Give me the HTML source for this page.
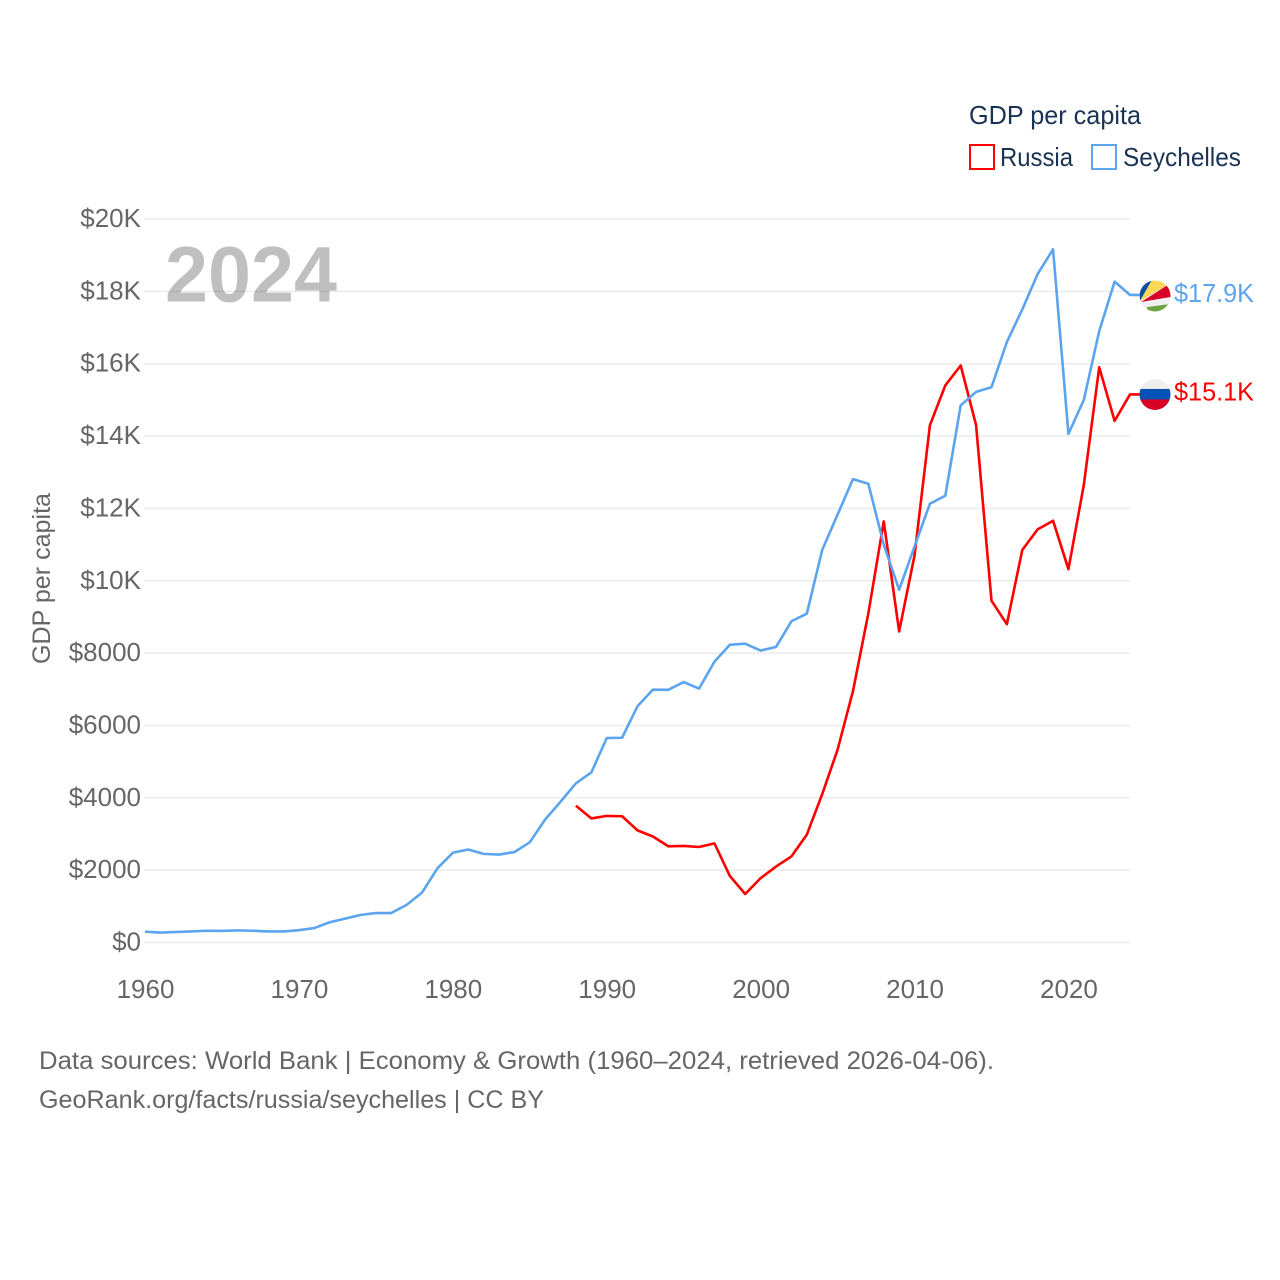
<!DOCTYPE html>
<html lang="en">
<head>
<meta charset="utf-8">
<title>GDP per capita: Russia and Seychelles</title>
<style>
html,body{margin:0;padding:0;background:#fff;}
svg{display:block;font-family:"Liberation Sans",sans-serif;}
</style>
</head>
<body>
<svg id="chart" width="1280" height="1280" viewBox="0 0 1280 1280" xmlns="http://www.w3.org/2000/svg">
  <defs>
    <clipPath id="flag-clip"><circle cx="0" cy="0" r="15.5"/></clipPath>
  </defs>
  <rect x="0" y="0" width="1280" height="1280" fill="#fff"/>

  <g id="grid"></g>
  <text x="165" y="301.5" font-size="79" font-weight="700" fill="#000" fill-opacity="0.25" textLength="172" lengthAdjust="spacingAndGlyphs">2024</text>
  <g id="y-axis"></g>
  <g id="x-axis"></g>
  <text transform="translate(50 578.5) rotate(-90)" text-anchor="middle" font-size="25" fill="#666" textLength="171" lengthAdjust="spacingAndGlyphs">GDP per capita</text>

  <g id="series"></g>

  <g id="flag-seychelles">
    <g clip-path="url(#flag-clip)">
      <rect x="-16" y="-16" width="32" height="32" fill="#f0f0f0"/>
      <polygon points="-15,5 -16,-16 -3,-16" fill="#0b4ea2"/>
      <polygon points="-15,5 -3,-16 16,-16 16,-13" fill="#fcd856"/>
      <polygon points="-14,6 16,-13 16,1" fill="#d80027"/>
      <polygon points="-8,11 16,8 16,16 -8,16" fill="#6da544"/>
    </g>
  </g>
  <g id="flag-russia">
    <g clip-path="url(#flag-clip)">
      <rect x="-16" y="-16" width="32" height="11" fill="#eeeeee"/>
      <rect x="-16" y="-5.5" width="32" height="11" fill="#0052b4"/>
      <rect x="-16" y="5" width="32" height="11" fill="#d80027"/>
    </g>
  </g>
  <text id="label-seychelles" x="1174" font-size="26" fill="#5ba4ee" textLength="80" lengthAdjust="spacingAndGlyphs"></text>
  <text id="label-russia" x="1174" font-size="26" fill="#ff0000" textLength="80" lengthAdjust="spacingAndGlyphs"></text>

  <g>
    <text x="969" y="124" font-size="26" fill="#1a3355" textLength="172" lengthAdjust="spacingAndGlyphs">GDP per capita</text>
    <g>
      <rect x="970" y="145" width="24" height="24" fill="none" stroke="#ff0000" stroke-width="2"/>
      <text x="1000" y="166" font-size="26" fill="#1a3355" textLength="73" lengthAdjust="spacingAndGlyphs">Russia</text>
    </g>
    <g>
      <rect x="1092" y="145" width="24" height="24" fill="none" stroke="#5ba4ee" stroke-width="2"/>
      <text x="1123" y="166" font-size="26" fill="#1a3355" textLength="118" lengthAdjust="spacingAndGlyphs">Seychelles</text>
    </g>
  </g>

  <text x="39" y="1069" font-size="25" fill="#666" textLength="955" lengthAdjust="spacingAndGlyphs">Data sources: World Bank | Economy &amp; Growth (1960–2024, retrieved 2026-04-06).</text>
  <text x="39" y="1108" font-size="25" fill="#666" textLength="505" lengthAdjust="spacingAndGlyphs">GeoRank.org/facts/russia/seychelles | CC BY</text>
</svg>
<script>
const seychellesStartYear = 1960;
const seychellesValues = [300,275,290,305,325,320,335,325,305,305,340,400,560,660,760,815,815,1040,1380,2050,2480,2570,2450,2430,2500,2770,3400,3890,4400,4700,5650,5660,6530,6990,6985,7200,7020,7760,8230,8260,8070,8170,8880,9090,10850,11830,12810,12680,11000,9750,10950,12130,12350,14850,15220,15350,16600,17500,18480,19160,14060,15000,16900,18270,17900];
const russiaStartYear = 1988;
const russiaValues = [3780,3430,3500,3490,3100,2930,2660,2670,2640,2740,1840,1340,1780,2100,2380,2980,4100,5330,6950,9100,11640,8600,10700,14300,15400,15950,14300,9450,8800,10850,11420,11660,10320,12650,15900,14420,15150];
const yTickValues = [0,2000,4000,6000,8000,10000,12000,14000,16000,18000,20000];
const yTickLabels = ['$0','$2000','$4000','$6000','$8000','$10K','$12K','$14K','$16K','$18K','$20K'];
const xTickValues = [1960,1970,1980,1990,2000,2010,2020];
const seychellesEndLabel = '$17.9K';
const russiaEndLabel = '$15.1K';

const NS = 'http://www.w3.org/2000/svg';
function xScale(year){ return 145 + (year - 1960) * (1130 - 145) / 64; }
function yScale(v){ return 942.5 - v * (942.5 - 219) / 20000; }
function svgEl(tag){ return document.createElementNS(NS, tag); }

const gridGroup = document.getElementById('grid');
const yGroup = document.getElementById('y-axis');
yTickValues.forEach(function(v, i){
  const line = svgEl('line');
  
  
  line.setAttribute('x1', 144);
  line.setAttribute('x2', 1130);
  line.setAttribute('y1', yScale(v));
  line.setAttribute('y2', yScale(v));
  line.setAttribute('stroke', '#ebebeb');
  line.setAttribute('stroke-width', '1.5');
  gridGroup.appendChild(line);

  const label = svgEl('text');
  
  
  label.setAttribute('x', 141);
  label.setAttribute('y', yScale(v) + 8);
  label.setAttribute('text-anchor', 'end');
  label.setAttribute('font-size', '26');
  label.setAttribute('fill', '#666');
  label.textContent = yTickLabels[i];
  yGroup.appendChild(label);
});

const xGroup = document.getElementById('x-axis');
xTickValues.forEach(function(year){
  const label = svgEl('text');
  
  
  label.setAttribute('x', xScale(year) + 0.5);
  label.setAttribute('y', 998);
  label.setAttribute('text-anchor', 'middle');
  label.setAttribute('font-size', '26');
  label.setAttribute('fill', '#666');
  label.textContent = String(year);
  xGroup.appendChild(label);
});

function linePoints(startYear, values){
  const pts = values.map(function(v, i){
    return xScale(startYear + i).toFixed(2) + ',' + yScale(v).toFixed(2);
  });
  pts.push('1140,' + yScale(values[values.length - 1]).toFixed(2));
  return pts.join(' ');
}

const seriesGroup = document.getElementById('series');

const russiaLine = svgEl('polyline');


russiaLine.setAttribute('points', linePoints(russiaStartYear, russiaValues));
russiaLine.setAttribute('fill', 'none');
russiaLine.setAttribute('stroke', '#ff0000');
russiaLine.setAttribute('stroke-width', '2.6');
russiaLine.setAttribute('stroke-linejoin', 'round');
seriesGroup.appendChild(russiaLine);

const seychellesLine = svgEl('polyline');


seychellesLine.setAttribute('points', linePoints(seychellesStartYear, seychellesValues));
seychellesLine.setAttribute('fill', 'none');
seychellesLine.setAttribute('stroke', '#5ba4ee');
seychellesLine.setAttribute('stroke-width', '2.6');
seychellesLine.setAttribute('stroke-linejoin', 'round');
seriesGroup.appendChild(seychellesLine);

const seyEndY = yScale(seychellesValues[seychellesValues.length - 1]);
const rusEndY = yScale(russiaValues[russiaValues.length - 1]);
document.getElementById('flag-seychelles').setAttribute('transform', 'translate(1155 ' + (seyEndY + 1) + ')');
document.getElementById('flag-russia').setAttribute('transform', 'translate(1155 ' + rusEndY + ')');
const seyLabel = document.getElementById('label-seychelles');
seyLabel.setAttribute('y', seyEndY + 7);
seyLabel.textContent = seychellesEndLabel;
const rusLabel = document.getElementById('label-russia');
rusLabel.setAttribute('y', rusEndY + 6);
rusLabel.textContent = russiaEndLabel;
</script>
</body>
</html>
